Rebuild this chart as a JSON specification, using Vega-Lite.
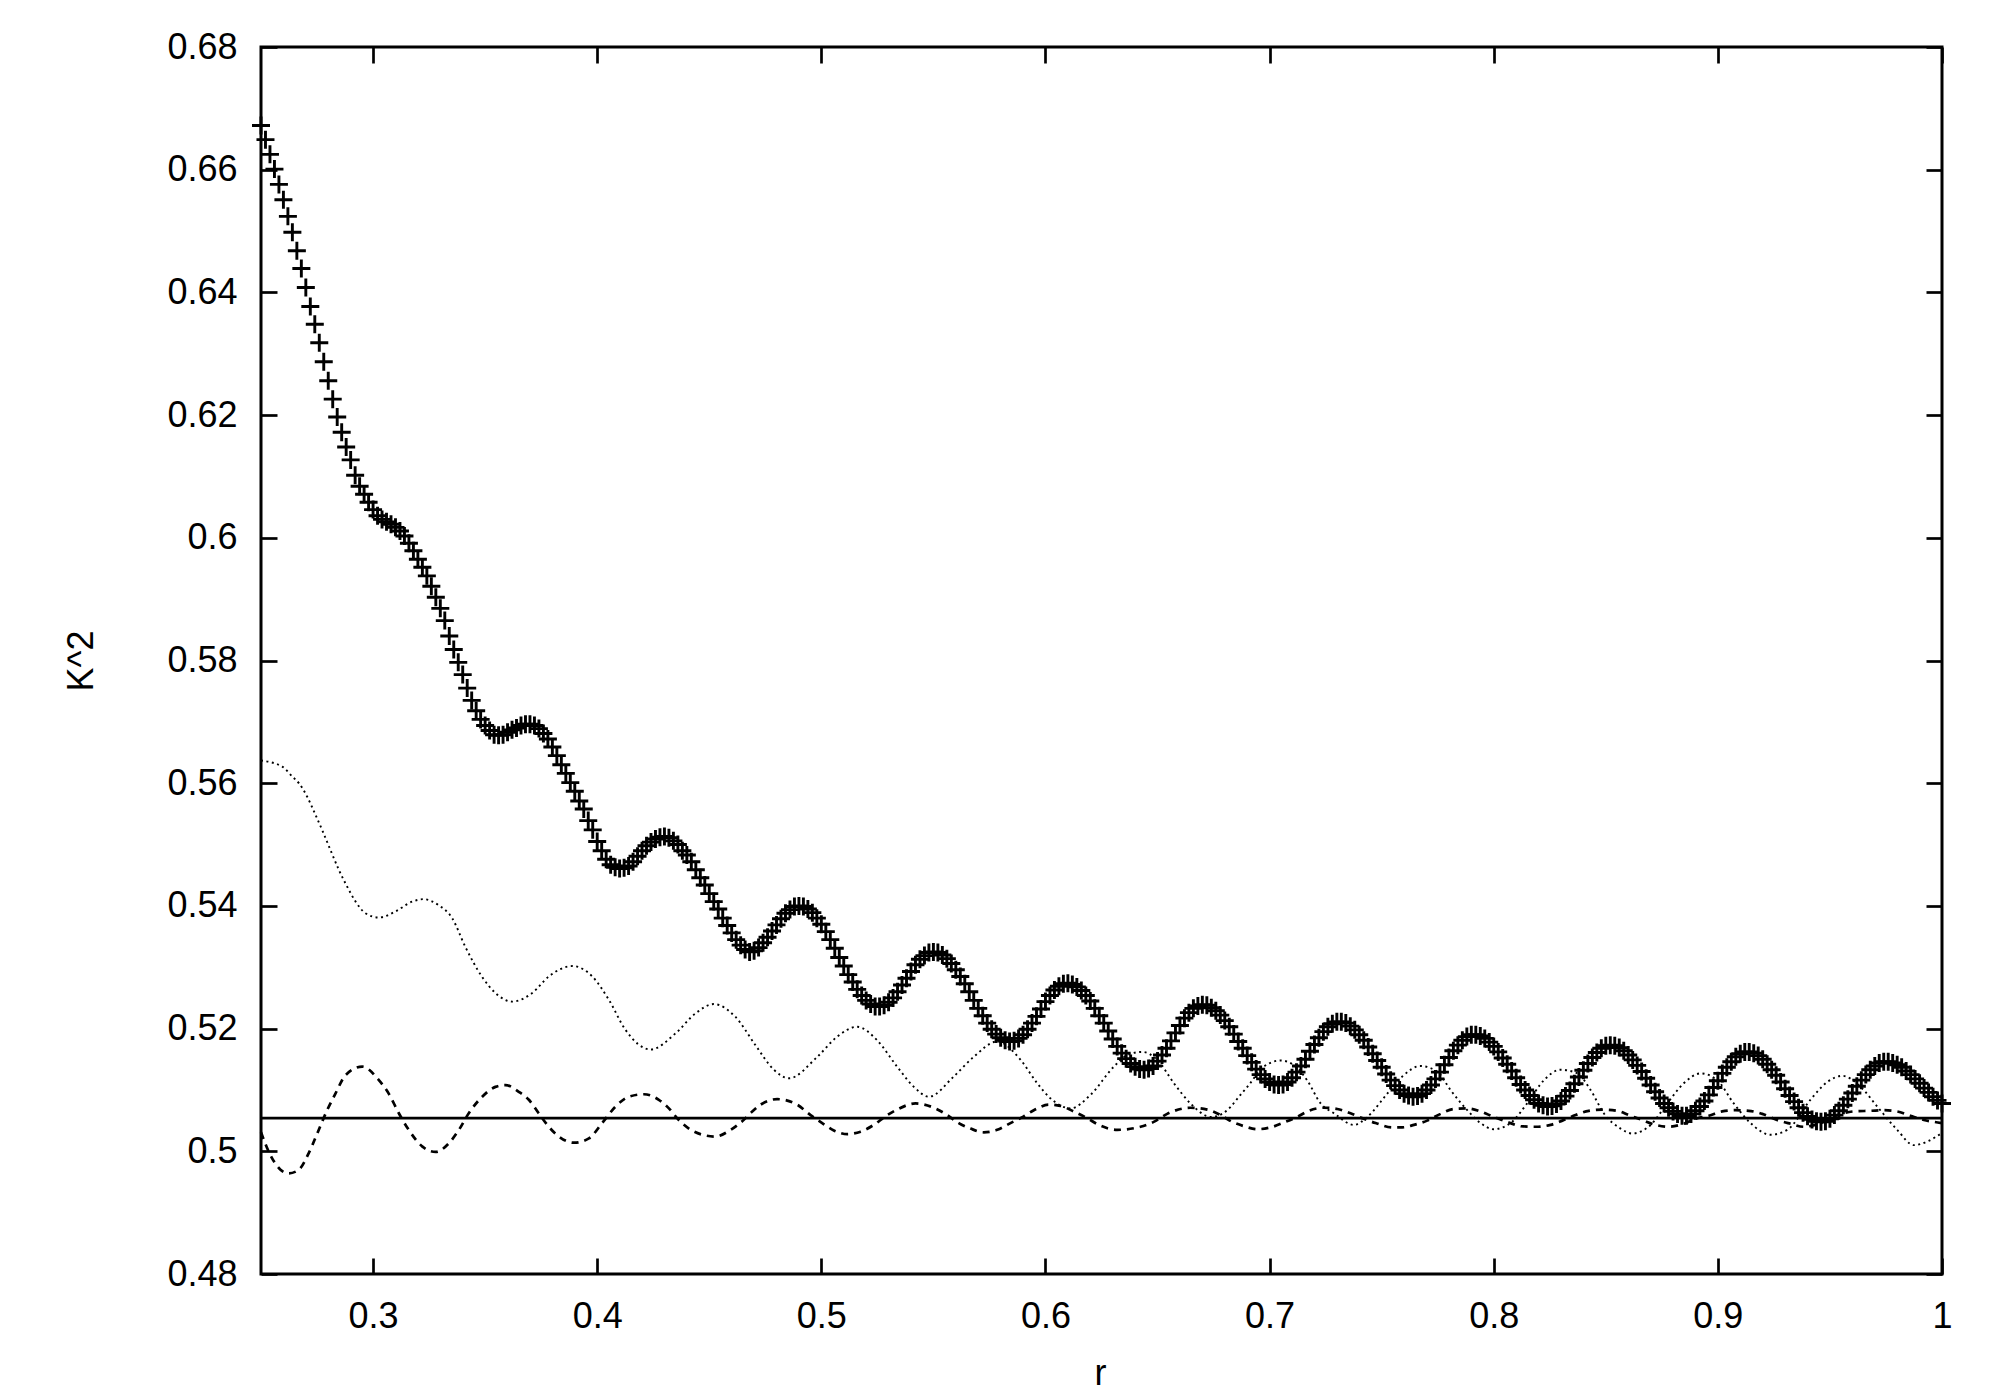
{
"$schema": "https://vega.github.io/schema/vega-lite/v6.json",
"width": 1681, "height": 1227,
"autosize": {"type": "none"},
"padding": {"left": 261, "top": 47, "right": 58, "bottom": 126},
"background": "white",
"config": {"view": {"stroke": "black", "strokeWidth": 3}, "font": "Liberation Sans"},
"datasets": {
"level": [{"k": 0.5054}],
"dashed": [
{"r":0.25,"k":0.5031},{"r":0.2535,"k":0.4999},{"r":0.2587,"k":0.4970},{"r":0.2624,"k":0.4964},{"r":0.2669,"k":0.4970},{"r":0.2713,"k":0.4997},{"r":0.2751,"k":0.5029},{"r":0.2795,"k":0.5067},{"r":0.2832,"k":0.5094},{"r":0.2877,"k":0.5124},{"r":0.2952,"k":0.5138},{"r":0.3026,"k":0.5116},{"r":0.3070,"k":0.5094},{"r":0.3115,"k":0.5062},{"r":0.3159,"k":0.5035},{"r":0.3219,"k":0.5008},{"r":0.3279,"k":0.4999},{"r":0.3338,"k":0.5013},{"r":0.3383,"k":0.5035},{"r":0.3427,"k":0.5062},{"r":0.3487,"k":0.5089},{"r":0.3546,"k":0.5105},{"r":0.3591,"k":0.5108},{"r":0.3650,"k":0.5097},{"r":0.3695,"k":0.5084},{"r":0.3739,"k":0.5062},{"r":0.3784,"k":0.5040},{"r":0.3829,"k":0.5024},{"r":0.3896,"k":0.5014},{"r":0.3963,"k":0.5021},{"r":0.4022,"k":0.5046},{"r":0.4082,"k":0.5073},{"r":0.4141,"k":0.5089},{"r":0.4208,"k":0.5093},{"r":0.4275,"k":0.5084},{"r":0.4320,"k":0.5070},{"r":0.4364,"k":0.5051},{"r":0.4409,"k":0.5037},{"r":0.4469,"k":0.5027},{"r":0.4528,"k":0.5024},{"r":0.4587,"k":0.5033},{"r":0.4647,"k":0.5049},{"r":0.4692,"k":0.5065},{"r":0.4729,"k":0.5076},{"r":0.4803,"k":0.5085},{"r":0.4892,"k":0.5076},{"r":0.4952,"k":0.5059},{"r":0.5004,"k":0.5046},{"r":0.5056,"k":0.5034},{"r":0.5116,"k":0.5028},{"r":0.5175,"k":0.5032},{"r":0.5234,"k":0.5043},{"r":0.5286,"k":0.5057},{"r":0.5338,"k":0.5068},{"r":0.5420,"k":0.5078},{"r":0.5502,"k":0.5071},{"r":0.5562,"k":0.5059},{"r":0.5613,"k":0.5046},{"r":0.5666,"k":0.5037},{"r":0.5725,"k":0.5031},{"r":0.5785,"k":0.5035},{"r":0.5844,"k":0.5046},{"r":0.5903,"k":0.5057},{"r":0.5948,"k":0.5067},{"r":0.6015,"k":0.5076},{"r":0.6067,"k":0.5074},{"r":0.6126,"k":0.5065},{"r":0.6186,"k":0.5054},{"r":0.6238,"k":0.5043},{"r":0.6320,"k":0.5035},{"r":0.6424,"k":0.5040},{"r":0.6483,"k":0.5048},{"r":0.6543,"k":0.5061},{"r":0.6647,"k":0.5071},{"r":0.6722,"k":0.5068},{"r":0.6781,"k":0.5059},{"r":0.6833,"k":0.5048},{"r":0.6885,"k":0.5041},{"r":0.6945,"k":0.5036},{"r":0.7005,"k":0.5039},{"r":0.7064,"k":0.5047},{"r":0.7123,"k":0.5056},{"r":0.7175,"k":0.5066},{"r":0.7242,"k":0.5071},{"r":0.7302,"k":0.5069},{"r":0.7361,"k":0.5062},{"r":0.7420,"k":0.5053},{"r":0.7473,"k":0.5046},{"r":0.7547,"k":0.5039},{"r":0.7592,"k":0.5039},{"r":0.7644,"k":0.5043},{"r":0.7703,"k":0.5050},{"r":0.7763,"k":0.5061},{"r":0.7822,"k":0.5069},{"r":0.7882,"k":0.5070},{"r":0.7941,"k":0.5065},{"r":0.8000,"k":0.5056},{"r":0.8060,"k":0.5048},{"r":0.8120,"k":0.5041},{"r":0.8187,"k":0.5040},{"r":0.8254,"k":0.5043},{"r":0.8306,"k":0.5050},{"r":0.8365,"k":0.5059},{"r":0.8424,"k":0.5066},{"r":0.8484,"k":0.5068},{"r":0.8551,"k":0.5066},{"r":0.8603,"k":0.5059},{"r":0.8662,"k":0.5051},{"r":0.8722,"k":0.5043},{"r":0.8781,"k":0.5040},{"r":0.8848,"k":0.5045},{"r":0.8908,"k":0.5054},{"r":0.8960,"k":0.5058},{"r":0.9019,"k":0.5065},{"r":0.9079,"k":0.5067},{"r":0.9138,"k":0.5066},{"r":0.9198,"k":0.5061},{"r":0.9264,"k":0.5051},{"r":0.9324,"k":0.5045},{"r":0.9383,"k":0.5040},{"r":0.9458,"k":0.5046},{"r":0.9532,"k":0.5059},{"r":0.9606,"k":0.5065},{"r":0.9681,"k":0.5066},{"r":0.9740,"k":0.5067},{"r":0.9800,"k":0.5065},{"r":0.9859,"k":0.5058},{"r":0.9919,"k":0.5051},{"r":0.9963,"k":0.5048},{"r":1.0,"k":0.5046}
],
"dotted": [
{"r":0.25,"k":0.5637},{"r":0.2595,"k":0.5627},{"r":0.2639,"k":0.5611},{"r":0.2669,"k":0.5600},{"r":0.2706,"k":0.5578},{"r":0.2740,"k":0.5551},{"r":0.2776,"k":0.5521},{"r":0.2810,"k":0.5491},{"r":0.2847,"k":0.5459},{"r":0.2885,"k":0.5431},{"r":0.2922,"k":0.5407},{"r":0.2966,"k":0.5388},{"r":0.3026,"k":0.5381},{"r":0.3100,"k":0.5391},{"r":0.3175,"k":0.5407},{"r":0.3225,"k":0.5411},{"r":0.3293,"k":0.5401},{"r":0.3353,"k":0.5380},{"r":0.3412,"k":0.5333},{"r":0.3487,"k":0.5284},{"r":0.3546,"k":0.5258},{"r":0.3621,"k":0.5244},{"r":0.3710,"k":0.5258},{"r":0.3784,"k":0.5285},{"r":0.3889,"k":0.5302},{"r":0.3978,"k":0.5285},{"r":0.4052,"k":0.5247},{"r":0.4126,"k":0.5198},{"r":0.4238,"k":0.5166},{"r":0.4349,"k":0.5192},{"r":0.4439,"k":0.5225},{"r":0.4520,"k":0.5240},{"r":0.4617,"k":0.5219},{"r":0.4706,"k":0.5173},{"r":0.4788,"k":0.5133},{"r":0.4855,"k":0.5119},{"r":0.4982,"k":0.5154},{"r":0.5071,"k":0.5187},{"r":0.5160,"k":0.5203},{"r":0.5249,"k":0.5181},{"r":0.5338,"k":0.5138},{"r":0.5413,"k":0.5105},{"r":0.5480,"k":0.5089},{"r":0.5591,"k":0.5122},{"r":0.5680,"k":0.5154},{"r":0.5785,"k":0.5179},{"r":0.5889,"k":0.5149},{"r":0.5963,"k":0.5111},{"r":0.6023,"k":0.5086},{"r":0.6112,"k":0.5070},{"r":0.6201,"k":0.5092},{"r":0.6305,"k":0.5138},{"r":0.6365,"k":0.5157},{"r":0.6432,"k":0.5162},{"r":0.6499,"k":0.5149},{"r":0.6573,"k":0.5111},{"r":0.6647,"k":0.5078},{"r":0.6740,"k":0.5056},{"r":0.6811,"k":0.5067},{"r":0.6870,"k":0.5092},{"r":0.6907,"k":0.5108},{"r":0.6974,"k":0.5138},{"r":0.7049,"k":0.5148},{"r":0.7120,"k":0.5137},{"r":0.7167,"k":0.5116},{"r":0.7228,"k":0.5078},{"r":0.7287,"k":0.5062},{"r":0.7376,"k":0.5043},{"r":0.7436,"k":0.5056},{"r":0.7525,"k":0.5094},{"r":0.7592,"k":0.5122},{"r":0.7673,"k":0.5139},{"r":0.7748,"k":0.5130},{"r":0.7807,"k":0.5100},{"r":0.7882,"k":0.5067},{"r":0.7941,"k":0.5046},{"r":0.8000,"k":0.5036},{"r":0.8075,"k":0.5046},{"r":0.8149,"k":0.5078},{"r":0.8224,"k":0.5116},{"r":0.8298,"k":0.5133},{"r":0.8373,"k":0.5127},{"r":0.8432,"k":0.5100},{"r":0.8491,"k":0.5062},{"r":0.8566,"k":0.5037},{"r":0.8618,"k":0.5029},{"r":0.8700,"k":0.5043},{"r":0.8774,"k":0.5078},{"r":0.8848,"k":0.5111},{"r":0.8923,"k":0.5127},{"r":0.8997,"k":0.5116},{"r":0.9071,"k":0.5078},{"r":0.9146,"k":0.5046},{"r":0.9235,"k":0.5027},{"r":0.9310,"k":0.5035},{"r":0.9413,"k":0.5084},{"r":0.9488,"k":0.5113},{"r":0.9555,"k":0.5123},{"r":0.9637,"k":0.5105},{"r":0.9711,"k":0.5073},{"r":0.9800,"k":0.5035},{"r":0.9874,"k":0.5010},{"r":0.9934,"k":0.5016},{"r":1.0,"k":0.5030}
],
"crosses": [
{"r":0.250,"k":0.6672},{"r":0.252,"k":0.6649},{"r":0.254,"k":0.6625},{"r":0.256,"k":0.6601},{"r":0.258,"k":0.6576},{"r":0.260,"k":0.6551},{"r":0.262,"k":0.6524},{"r":0.264,"k":0.6498},{"r":0.266,"k":0.6468},{"r":0.268,"k":0.6439},
{"r":0.270,"k":0.6408},{"r":0.272,"k":0.6377},{"r":0.274,"k":0.6348},{"r":0.276,"k":0.6318},{"r":0.278,"k":0.6287},{"r":0.280,"k":0.6256},{"r":0.282,"k":0.6226},{"r":0.284,"k":0.6197},{"r":0.286,"k":0.6172},{"r":0.288,"k":0.6148},
{"r":0.290,"k":0.6127},{"r":0.292,"k":0.6102},{"r":0.294,"k":0.6084},{"r":0.296,"k":0.6071},{"r":0.298,"k":0.6058},{"r":0.300,"k":0.6046},{"r":0.302,"k":0.6036},{"r":0.304,"k":0.6030},{"r":0.306,"k":0.6026},{"r":0.308,"k":0.6022},
{"r":0.310,"k":0.6017},{"r":0.312,"k":0.6011},{"r":0.314,"k":0.6003},{"r":0.316,"k":0.5991},{"r":0.318,"k":0.5979},{"r":0.320,"k":0.5965},{"r":0.322,"k":0.5952},{"r":0.324,"k":0.5938},{"r":0.326,"k":0.5921},{"r":0.328,"k":0.5903},
{"r":0.330,"k":0.5885},{"r":0.332,"k":0.5865},{"r":0.334,"k":0.5840},{"r":0.336,"k":0.5818},{"r":0.338,"k":0.5797},{"r":0.340,"k":0.5777},{"r":0.342,"k":0.5755},{"r":0.344,"k":0.5735},{"r":0.346,"k":0.5718},{"r":0.348,"k":0.5704},
{"r":0.350,"k":0.5694},{"r":0.352,"k":0.5686},{"r":0.354,"k":0.5679},{"r":0.356,"k":0.5678},{"r":0.358,"k":0.5679},{"r":0.360,"k":0.5683},{"r":0.362,"k":0.5687},{"r":0.364,"k":0.5690},{"r":0.366,"k":0.5694},{"r":0.368,"k":0.5696},
{"r":0.370,"k":0.5696},{"r":0.372,"k":0.5694},{"r":0.374,"k":0.5689},{"r":0.376,"k":0.5681},{"r":0.378,"k":0.5672},{"r":0.380,"k":0.5659},{"r":0.382,"k":0.5645},{"r":0.384,"k":0.5630},{"r":0.386,"k":0.5616},{"r":0.388,"k":0.5601},
{"r":0.390,"k":0.5587},{"r":0.392,"k":0.5571},{"r":0.394,"k":0.5558},{"r":0.396,"k":0.5539},{"r":0.398,"k":0.5524},{"r":0.400,"k":0.5505},{"r":0.402,"k":0.5490},{"r":0.404,"k":0.5476},{"r":0.406,"k":0.5467},{"r":0.408,"k":0.5463},
{"r":0.410,"k":0.5461},{"r":0.412,"k":0.5462},{"r":0.414,"k":0.5465},{"r":0.416,"k":0.5472},{"r":0.418,"k":0.5481},{"r":0.420,"k":0.5490},{"r":0.422,"k":0.5498},{"r":0.424,"k":0.5504},{"r":0.426,"k":0.5509},{"r":0.428,"k":0.5512},
{"r":0.430,"k":0.5513},{"r":0.432,"k":0.5511},{"r":0.434,"k":0.5506},{"r":0.436,"k":0.5500},{"r":0.438,"k":0.5490},{"r":0.440,"k":0.5483},{"r":0.442,"k":0.5472},{"r":0.444,"k":0.5459},{"r":0.446,"k":0.5446},{"r":0.448,"k":0.5434},
{"r":0.450,"k":0.5420},{"r":0.452,"k":0.5407},{"r":0.454,"k":0.5395},{"r":0.456,"k":0.5380},{"r":0.458,"k":0.5368},{"r":0.460,"k":0.5356},{"r":0.462,"k":0.5345},{"r":0.464,"k":0.5336},{"r":0.466,"k":0.5329},{"r":0.468,"k":0.5325},
{"r":0.470,"k":0.5327},{"r":0.472,"k":0.5332},{"r":0.474,"k":0.5340},{"r":0.476,"k":0.5349},{"r":0.478,"k":0.5359},{"r":0.480,"k":0.5369},{"r":0.482,"k":0.5379},{"r":0.484,"k":0.5388},{"r":0.486,"k":0.5394},{"r":0.488,"k":0.5399},
{"r":0.490,"k":0.5400},{"r":0.492,"k":0.5399},{"r":0.494,"k":0.5395},{"r":0.496,"k":0.5389},{"r":0.498,"k":0.5380},{"r":0.500,"k":0.5370},{"r":0.502,"k":0.5358},{"r":0.504,"k":0.5345},{"r":0.506,"k":0.5331},{"r":0.508,"k":0.5316},
{"r":0.510,"k":0.5302},{"r":0.512,"k":0.5288},{"r":0.514,"k":0.5276},{"r":0.516,"k":0.5264},{"r":0.518,"k":0.5254},{"r":0.520,"k":0.5246},{"r":0.522,"k":0.5240},{"r":0.524,"k":0.5236},{"r":0.526,"k":0.5236},{"r":0.528,"k":0.5238},
{"r":0.530,"k":0.5243},{"r":0.532,"k":0.5250},{"r":0.534,"k":0.5260},{"r":0.536,"k":0.5271},{"r":0.538,"k":0.5282},{"r":0.540,"k":0.5293},{"r":0.542,"k":0.5304},{"r":0.544,"k":0.5313},{"r":0.546,"k":0.5319},{"r":0.548,"k":0.5324},
{"r":0.550,"k":0.5325},{"r":0.552,"k":0.5324},{"r":0.554,"k":0.5320},{"r":0.556,"k":0.5314},{"r":0.558,"k":0.5306},{"r":0.560,"k":0.5296},{"r":0.562,"k":0.5285},{"r":0.564,"k":0.5273},{"r":0.566,"k":0.5260},{"r":0.568,"k":0.5246},
{"r":0.570,"k":0.5233},{"r":0.572,"k":0.5221},{"r":0.574,"k":0.5209},{"r":0.576,"k":0.5199},{"r":0.578,"k":0.5191},{"r":0.580,"k":0.5185},{"r":0.582,"k":0.5181},{"r":0.584,"k":0.5179},{"r":0.586,"k":0.5180},{"r":0.588,"k":0.5184},
{"r":0.590,"k":0.5190},{"r":0.592,"k":0.5199},{"r":0.594,"k":0.5209},{"r":0.596,"k":0.5220},{"r":0.598,"k":0.5232},{"r":0.600,"k":0.5244},{"r":0.602,"k":0.5254},{"r":0.604,"k":0.5263},{"r":0.606,"k":0.5269},{"r":0.608,"k":0.5273},
{"r":0.610,"k":0.5274},{"r":0.612,"k":0.5272},{"r":0.614,"k":0.5268},{"r":0.616,"k":0.5262},{"r":0.618,"k":0.5254},{"r":0.620,"k":0.5245},{"r":0.622,"k":0.5233},{"r":0.624,"k":0.5221},{"r":0.626,"k":0.5209},{"r":0.628,"k":0.5196},
{"r":0.630,"k":0.5183},{"r":0.632,"k":0.5171},{"r":0.634,"k":0.5160},{"r":0.636,"k":0.5151},{"r":0.638,"k":0.5143},{"r":0.640,"k":0.5138},{"r":0.642,"k":0.5134},{"r":0.644,"k":0.5133},{"r":0.646,"k":0.5135},{"r":0.648,"k":0.5139},
{"r":0.650,"k":0.5147},{"r":0.652,"k":0.5157},{"r":0.654,"k":0.5168},{"r":0.656,"k":0.5180},{"r":0.658,"k":0.5193},{"r":0.660,"k":0.5205},{"r":0.662,"k":0.5217},{"r":0.664,"k":0.5226},{"r":0.666,"k":0.5233},{"r":0.668,"k":0.5237},
{"r":0.670,"k":0.5239},{"r":0.672,"k":0.5238},{"r":0.674,"k":0.5234},{"r":0.676,"k":0.5229},{"r":0.678,"k":0.5222},{"r":0.680,"k":0.5213},{"r":0.682,"k":0.5203},{"r":0.684,"k":0.5191},{"r":0.686,"k":0.5179},{"r":0.688,"k":0.5168},
{"r":0.690,"k":0.5156},{"r":0.692,"k":0.5145},{"r":0.694,"k":0.5134},{"r":0.696,"k":0.5125},{"r":0.698,"k":0.5118},{"r":0.700,"k":0.5113},{"r":0.702,"k":0.5109},{"r":0.704,"k":0.5108},{"r":0.706,"k":0.5109},{"r":0.708,"k":0.5113},
{"r":0.710,"k":0.5120},{"r":0.712,"k":0.5129},{"r":0.714,"k":0.5139},{"r":0.716,"k":0.5150},{"r":0.718,"k":0.5163},{"r":0.720,"k":0.5174},{"r":0.722,"k":0.5185},{"r":0.724,"k":0.5195},{"r":0.726,"k":0.5203},{"r":0.728,"k":0.5208},
{"r":0.730,"k":0.5211},{"r":0.732,"k":0.5211},{"r":0.734,"k":0.5209},{"r":0.736,"k":0.5204},{"r":0.738,"k":0.5198},{"r":0.740,"k":0.5190},{"r":0.742,"k":0.5181},{"r":0.744,"k":0.5170},{"r":0.746,"k":0.5159},{"r":0.748,"k":0.5148},
{"r":0.750,"k":0.5137},{"r":0.752,"k":0.5126},{"r":0.754,"k":0.5116},{"r":0.756,"k":0.5107},{"r":0.758,"k":0.5100},{"r":0.760,"k":0.5094},{"r":0.762,"k":0.5091},{"r":0.764,"k":0.5089},{"r":0.766,"k":0.5090},{"r":0.768,"k":0.5094},
{"r":0.770,"k":0.5100},{"r":0.772,"k":0.5108},{"r":0.774,"k":0.5118},{"r":0.776,"k":0.5129},{"r":0.778,"k":0.5141},{"r":0.780,"k":0.5153},{"r":0.782,"k":0.5164},{"r":0.784,"k":0.5173},{"r":0.786,"k":0.5181},{"r":0.788,"k":0.5187},
{"r":0.790,"k":0.5190},{"r":0.792,"k":0.5190},{"r":0.794,"k":0.5188},{"r":0.796,"k":0.5184},{"r":0.798,"k":0.5178},{"r":0.800,"k":0.5171},{"r":0.802,"k":0.5162},{"r":0.804,"k":0.5152},{"r":0.806,"k":0.5142},{"r":0.808,"k":0.5131},
{"r":0.810,"k":0.5120},{"r":0.812,"k":0.5109},{"r":0.814,"k":0.5100},{"r":0.816,"k":0.5091},{"r":0.818,"k":0.5084},{"r":0.820,"k":0.5078},{"r":0.822,"k":0.5075},{"r":0.824,"k":0.5073},{"r":0.826,"k":0.5074},{"r":0.828,"k":0.5077},
{"r":0.830,"k":0.5082},{"r":0.832,"k":0.5090},{"r":0.834,"k":0.5099},{"r":0.836,"k":0.5110},{"r":0.838,"k":0.5121},{"r":0.840,"k":0.5132},{"r":0.842,"k":0.5143},{"r":0.844,"k":0.5153},{"r":0.846,"k":0.5161},{"r":0.848,"k":0.5168},
{"r":0.850,"k":0.5172},{"r":0.852,"k":0.5173},{"r":0.854,"k":0.5172},{"r":0.856,"k":0.5169},{"r":0.858,"k":0.5164},{"r":0.860,"k":0.5157},{"r":0.862,"k":0.5149},{"r":0.864,"k":0.5140},{"r":0.866,"k":0.5130},{"r":0.868,"k":0.5119},
{"r":0.870,"k":0.5108},{"r":0.872,"k":0.5097},{"r":0.874,"k":0.5087},{"r":0.876,"k":0.5078},{"r":0.878,"k":0.5071},{"r":0.880,"k":0.5065},{"r":0.882,"k":0.5061},{"r":0.884,"k":0.5058},{"r":0.886,"k":0.5058},{"r":0.888,"k":0.5061},
{"r":0.890,"k":0.5066},{"r":0.892,"k":0.5073},{"r":0.894,"k":0.5082},{"r":0.896,"k":0.5092},{"r":0.898,"k":0.5104},{"r":0.900,"k":0.5115},{"r":0.902,"k":0.5127},{"r":0.904,"k":0.5137},{"r":0.906,"k":0.5146},{"r":0.908,"k":0.5154},
{"r":0.910,"k":0.5159},{"r":0.912,"k":0.5162},{"r":0.914,"k":0.5162},{"r":0.916,"k":0.5160},{"r":0.918,"k":0.5156},{"r":0.920,"k":0.5150},{"r":0.922,"k":0.5142},{"r":0.924,"k":0.5133},{"r":0.926,"k":0.5124},{"r":0.928,"k":0.5113},
{"r":0.930,"k":0.5102},{"r":0.932,"k":0.5091},{"r":0.934,"k":0.5081},{"r":0.936,"k":0.5071},{"r":0.938,"k":0.5063},{"r":0.940,"k":0.5057},{"r":0.942,"k":0.5052},{"r":0.944,"k":0.5049},{"r":0.946,"k":0.5048},{"r":0.948,"k":0.5049},
{"r":0.950,"k":0.5053},{"r":0.952,"k":0.5059},{"r":0.954,"k":0.5066},{"r":0.956,"k":0.5075},{"r":0.958,"k":0.5085},{"r":0.960,"k":0.5095},{"r":0.962,"k":0.5106},{"r":0.964,"k":0.5116},{"r":0.966,"k":0.5125},{"r":0.968,"k":0.5133},
{"r":0.970,"k":0.5139},{"r":0.972,"k":0.5144},{"r":0.974,"k":0.5146},{"r":0.976,"k":0.5146},{"r":0.978,"k":0.5144},{"r":0.980,"k":0.5141},{"r":0.982,"k":0.5137},{"r":0.984,"k":0.5131},{"r":0.986,"k":0.5125},{"r":0.988,"k":0.5118},
{"r":0.990,"k":0.5111},{"r":0.992,"k":0.5103},{"r":0.994,"k":0.5096},{"r":0.996,"k":0.5089},{"r":0.998,"k":0.5083},{"r":1.000,"k":0.5078}
]
},
"layer": [
{
"data": {"name": "dashed"},
"mark": {"type": "line", "interpolate": "monotone", "color": "black", "strokeWidth": 2.7, "strokeDash": [7, 6]},
"encoding": {
"x": {"field": "r", "type": "quantitative", "scale": {"type": "linear", "domain": [0.25, 1], "nice": false, "zero": false},
"axis": {"orient": "bottom", "values": [0.3, 0.4, 0.5, 0.6, 0.7, 0.8, 0.9, 1], "format": "~g", "grid": false, "domain": false, "ticks": false, "tickSize": 0, "labelPadding": 25, "labelFont": "Liberation Sans", "labelFontSize": 36, "labelColor": "black", "labelFlush": false, "labelOverlap": false, "labelBound": false,
"title": "r", "titleFont": "Liberation Sans", "titleFontSize": 36, "titleFontWeight": "normal", "titleColor": "black", "titleX": 839, "titleY": 110, "titleBaseline": "alphabetic", "titleAlign": "center"}},
"y": {"field": "k", "type": "quantitative", "scale": {"type": "linear", "domain": [0.48, 0.68], "nice": false, "zero": false},
"axis": {"orient": "left", "values": [0.48, 0.5, 0.52, 0.54, 0.56, 0.58, 0.6, 0.62, 0.64, 0.66, 0.68], "format": "~g", "grid": false, "domain": false, "ticks": false, "tickSize": 0, "labelPadding": 24, "labelFont": "Liberation Sans", "labelFontSize": 36, "labelColor": "black", "labelOverlap": false, "labelBound": false, "labelFlush": false,
"title": "K^2", "titleFont": "Liberation Sans", "titleFontSize": 36, "titleFontWeight": "normal", "titleColor": "black", "titleX": -180, "titleY": 613.5, "titleAngle": -90, "titleBaseline": "middle", "titleAlign": "center"}}
}
},
{
"data": {"name": "dotted"},
"mark": {"type": "line", "interpolate": "monotone", "color": "black", "strokeWidth": 1.9, "strokeDash": [2, 3.5]},
"encoding": {
"x": {"field": "r", "type": "quantitative", "scale": {"type": "linear", "domain": [0.25, 1], "nice": false, "zero": false},
"axis": {"orient": "bottom", "values": [0.3, 0.4, 0.5, 0.6, 0.7, 0.8, 0.9, 1], "labels": false, "grid": false, "domain": false, "ticks": true, "tickSize": -16, "tickWidth": 2.7, "tickColor": "black", "title": null}},
"y": {"field": "k", "type": "quantitative", "scale": {"type": "linear", "domain": [0.48, 0.68], "nice": false, "zero": false},
"axis": {"orient": "left", "values": [0.48, 0.5, 0.52, 0.54, 0.56, 0.58, 0.6, 0.62, 0.64, 0.66, 0.68], "labels": false, "grid": false, "domain": false, "ticks": true, "tickSize": -16, "tickWidth": 2.7, "tickColor": "black", "title": null}}
}
},
{
"data": {"name": "level"},
"mark": {"type": "rule", "color": "black", "strokeWidth": 2.7},
"encoding": {
"y": {"field": "k", "type": "quantitative", "scale": {"type": "linear", "domain": [0.48, 0.68], "nice": false, "zero": false}, "axis": null}
}
},
{
"data": {"name": "crosses"},
"mark": {"type": "point", "shape": "M-1,0L1,0M0,-1L0,1", "size": 324, "filled": false, "stroke": "black", "strokeWidth": 2.9, "opacity": 1},
"encoding": {
"x": {"field": "r", "type": "quantitative", "scale": {"type": "linear", "domain": [0.25, 1], "nice": false, "zero": false},
"axis": {"orient": "top", "values": [0.3, 0.4, 0.5, 0.6, 0.7, 0.8, 0.9, 1], "labels": false, "grid": false, "domain": false, "ticks": true, "tickSize": -16, "tickWidth": 2.7, "tickColor": "black", "title": null}},
"y": {"field": "k", "type": "quantitative", "scale": {"type": "linear", "domain": [0.48, 0.68], "nice": false, "zero": false},
"axis": {"orient": "right", "values": [0.48, 0.5, 0.52, 0.54, 0.56, 0.58, 0.6, 0.62, 0.64, 0.66, 0.68], "labels": false, "grid": false, "domain": false, "ticks": true, "tickSize": -16, "tickWidth": 2.7, "tickColor": "black", "title": null}}
}
}
],
"resolve": {"axis": {"x": "independent", "y": "independent"}}
}
